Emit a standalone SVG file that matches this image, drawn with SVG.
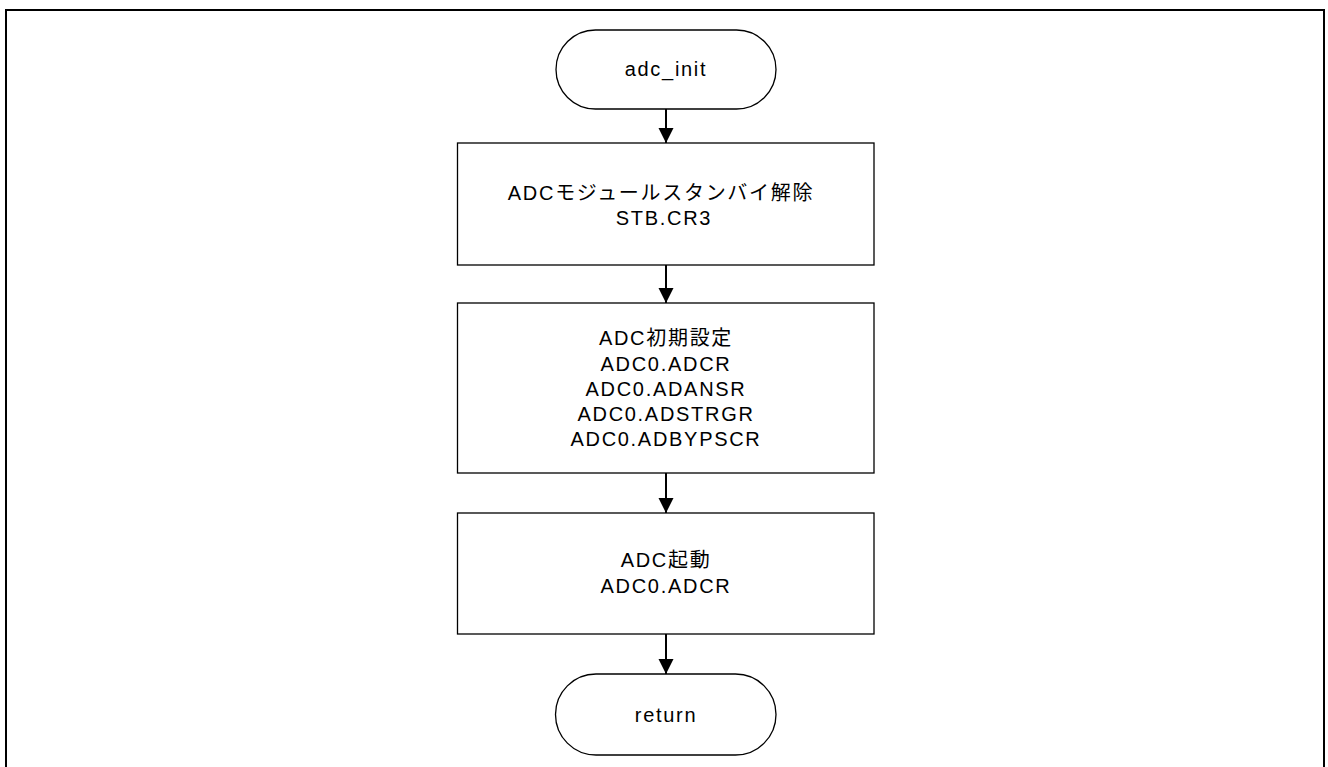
<svg xmlns="http://www.w3.org/2000/svg" width="1328" height="767" viewBox="0 0 1328 767">
<style>
.frame{fill:none;stroke:#000;stroke-width:2}
.shape{fill:#fff;stroke:#000;stroke-width:1.3}
.conn{stroke:#000;stroke-width:2;fill:none}
.t{font-family:"Liberation Sans","Noto Sans CJK JP",sans-serif;font-size:20px;letter-spacing:1.7px;text-anchor:middle;fill:#000}
</style>
<defs>
<marker id="ah" markerWidth="15" markerHeight="16" refX="15" refY="7.5" orient="auto" markerUnits="userSpaceOnUse">
<path d="M0,0 L15,7.5 L0,15 Z" fill="#000"/>
</marker>
</defs>
<rect width="1328" height="767" fill="#fff"/>
<path class="frame" d="M6,780 L6,10 L1324,10 L1324,780"/>
<g id="connectors">
<line class="conn" x1="666" y1="109" x2="666" y2="143" marker-end="url(#ah)"/>
<line class="conn" x1="666" y1="265" x2="666" y2="303" marker-end="url(#ah)"/>
<line class="conn" x1="666" y1="473" x2="666" y2="513" marker-end="url(#ah)"/>
<line class="conn" x1="666" y1="634" x2="666" y2="674" marker-end="url(#ah)"/>
</g>
<g id="start">
<rect class="shape" x="556" y="30" width="220" height="79" rx="39.5" ry="39.5"/>
<text class="t" x="666" y="76">adc_init</text>
</g>
<g id="box1">
<rect class="shape" x="457.5" y="143" width="416.5" height="122"/>
<text class="t" x="661" y="200">ADCモジュールスタンバイ解除</text>
<text class="t" x="664" y="225">STB.CR3</text>
</g>
<g id="box2">
<rect class="shape" x="457.5" y="303" width="416.5" height="170"/>
<text class="t" x="666" y="345">ADC初期設定</text>
<text class="t" x="666" y="371">ADC0.ADCR</text>
<text class="t" x="666" y="396">ADC0.ADANSR</text>
<text class="t" x="666" y="421">ADC0.ADSTRGR</text>
<text class="t" x="666" y="446">ADC0.ADBYPSCR</text>
</g>
<g id="box3">
<rect class="shape" x="457.5" y="513" width="416.5" height="121"/>
<text class="t" x="666" y="567">ADC起動</text>
<text class="t" x="666" y="593">ADC0.ADCR</text>
</g>
<g id="end">
<rect class="shape" x="555.5" y="674" width="220.5" height="81" rx="40.5" ry="40.5"/>
<text class="t" x="666" y="722">return</text>
</g>
</svg>
